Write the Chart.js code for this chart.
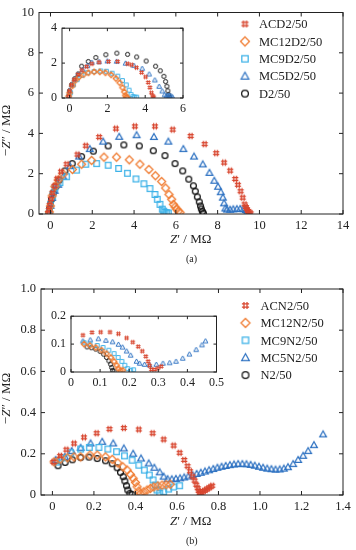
<!DOCTYPE html>
<html>
<head>
<meta charset="utf-8">
<script src="https://cdn.jsdelivr.net/npm/chart.js@4.4.0/dist/chart.umd.min.js"></script>
<style>
body { margin: 0; background: #fff; width: 356px; height: 550px; position: relative; overflow: hidden; font-family: "Liberation Serif", serif; color: #222; }
canvas { position: absolute; }
.t { position: absolute; font-size: 13px; white-space: nowrap; line-height: 1; }
.cap { font-size: 10px; }
</style>
</head>
<body>
<canvas id="mainA" style="left:0;top:0"></canvas>
<canvas id="insetA" style="left:44px;top:16px"></canvas>
<canvas id="mainB" style="left:0;top:275px"></canvas>
<canvas id="insetB" style="left:45px;top:304px"></canvas>

<div class="t" style="left:170px;top:232px"><i>Z</i>′ / MΩ</div>
<div class="t cap" style="left:186px;top:254px">(a)</div>
<div class="t" style="left:170px;top:514px"><i>Z</i>′ / MΩ</div>
<div class="t cap" style="left:186px;top:536px">(b)</div>
<div class="t" style="left:-20px;top:124px;transform:rotate(-90deg)">−<i>Z</i>″ / MΩ</div>
<div class="t" style="left:-20px;top:392px;transform:rotate(-90deg)">−<i>Z</i>″ / MΩ</div>

<script>
// ---------- tick labels ----------
const aMainXTicks = ['0', '2', '4', '6', '8', '10', '12', '14'];
const aMainYTicks = ['0', '2', '4', '6', '8', '10'];
const aInsetXTicks = ['0', '2', '4', '6'];
const aInsetYTicks = ['0', '2', '4'];
const bMainXTicks = ['0', '0.2', '0.4', '0.6', '0.8', '1.0', '1.2', '1.4'];
const bMainYTicks = ['0', '0.2', '0.4', '0.6', '0.8', '1.0'];
const bInsetXTicks = ['0', '0.1', '0.2', '0.3', '0.4', '0.5'];
const bInsetYTicks = ['0', '0.1', '0.2'];

const labelsA = ['ACD2/50', 'MC12D2/50', 'MC9D2/50', 'MC5D2/50', 'D2/50'];
const labelsB = ['ACN2/50', 'MC12N2/50', 'MC9N2/50', 'MC5N2/50', 'N2/50'];

// ---------- panel (a), main ----------
const aAcdX = [-0.1, -0.08, -0.04, 0.02, 0.1, 0.2, 0.32, 0.5, 0.77, 1.29, 1.69, 2.33, 3.13, 4.04, 5.0, 5.85, 6.71, 7.38, 7.93, 8.31, 8.6, 8.84, 8.97, 9.1, 9.2, 9.29, 9.35, 9.4, 9.45, 9.52, 9.58];
const aAcdY = [0.05, 0.2, 0.45, 0.75, 1.05, 1.4, 1.75, 2.1, 2.47, 2.95, 3.39, 3.82, 4.24, 4.35, 4.35, 4.19, 3.87, 3.47, 3.02, 2.55, 2.15, 1.74, 1.45, 1.13, 0.81, 0.48, 0.35, 0.24, 0.15, 0.08, 0.03];
const aMc12X = [-0.05, 0.0, 0.08, 0.21, 0.37, 0.61, 1.05, 1.49, 1.97, 2.56, 3.16, 3.77, 4.28, 4.71, 5.02, 5.32, 5.51, 5.67, 5.8, 5.88, 5.96, 6.04, 6.12, 6.2];
const aMc12Y = [0.1, 0.4, 0.9, 1.37, 1.69, 1.98, 2.21, 2.47, 2.66, 2.82, 2.82, 2.69, 2.47, 2.21, 1.9, 1.61, 1.29, 0.97, 0.73, 0.48, 0.35, 0.24, 0.14, 0.08];
const aMc9X = [-0.05, 0.0, 0.1, 0.21, 0.45, 0.77, 1.25, 1.69, 2.21, 2.76, 3.26, 3.68, 4.09, 4.47, 4.76, 5.0, 5.11, 5.24, 5.35, 5.42, 5.48, 5.56, 5.64];
const aMc9Y = [0.1, 0.45, 0.89, 1.29, 1.56, 1.85, 2.18, 2.47, 2.5, 2.42, 2.26, 2.02, 1.74, 1.5, 1.26, 0.97, 0.73, 0.48, 0.24, 0.14, 0.08, 0.06, 0.05];
const aMc5X = [-0.05, 0.0, 0.08, 0.2, 0.37, 0.61, 0.93, 1.37, 1.88, 2.52, 3.29, 4.12, 4.95, 5.64, 6.36, 6.87, 7.29, 7.61, 7.84, 8.02, 8.15, 8.25, 8.31, 8.37, 8.45, 8.6, 8.75, 8.92, 9.08, 9.24, 9.35, 9.43];
const aMc5Y = [0.1, 0.4, 0.8, 1.15, 1.45, 1.85, 2.37, 2.85, 3.22, 3.59, 3.83, 3.91, 3.82, 3.59, 3.22, 2.85, 2.46, 2.04, 1.65, 1.35, 1.08, 0.81, 0.53, 0.27, 0.22, 0.21, 0.23, 0.24, 0.25, 0.24, 0.2, 0.16];
const aD2X = [-0.08, -0.05, 0.0, 0.05, 0.13, 0.26, 0.42, 0.69, 1.04, 1.49, 2.05, 2.76, 3.51, 4.25, 4.92, 5.48, 5.96, 6.33, 6.62, 6.84, 6.93, 7.03, 7.12, 7.18, 7.22, 7.27, 7.32];
const aD2Y = [0.05, 0.25, 0.5, 0.73, 1.05, 1.37, 1.69, 2.14, 2.5, 2.85, 3.12, 3.38, 3.43, 3.38, 3.14, 2.9, 2.5, 2.14, 1.73, 1.4, 1.13, 0.85, 0.6, 0.4, 0.25, 0.12, 0.04];

// ---------- panel (a), inset ----------
const aiAcdX = [-0.05, 0.0, 0.1, 0.25, 0.45, 0.65, 0.9, 1.18, 1.56, 2.06, 2.54, 3.07, 3.28, 3.54, 3.81, 4.02, 4.16, 4.25, 4.33, 4.4, 4.45];
const aiAcdY = [0.1, 0.4, 0.75, 1.05, 1.35, 1.6, 1.8, 1.96, 2.05, 2.09, 2.09, 1.96, 1.9, 1.74, 1.46, 1.21, 0.89, 0.6, 0.3, 0.12, 0.05];
const aiMc12X = [-0.05, 0.0, 0.15, 0.3, 0.5, 0.75, 1.0, 1.3, 1.6, 1.9, 2.2, 2.45, 2.65, 2.8, 2.9, 2.95, 3.0, 3.05];
const aiMc12Y = [0.1, 0.3, 0.7, 1.0, 1.2, 1.35, 1.45, 1.5, 1.5, 1.45, 1.33, 1.12, 0.88, 0.6, 0.35, 0.15, 0.05, 0.03];
const aiMc9X = [-0.05, 0.05, 0.2, 0.4, 0.65, 0.95, 1.3, 1.65, 1.95, 2.25, 2.55, 2.8, 3.0, 3.15, 3.25, 3.35, 3.45, 3.55];
const aiMc9Y = [0.1, 0.3, 0.75, 1.05, 1.3, 1.45, 1.52, 1.55, 1.53, 1.42, 1.25, 1.0, 0.75, 0.45, 0.2, 0.08, 0.05, 0.05];
const aiMc5X = [-0.05, 0.0, 0.1, 0.25, 0.45, 0.7, 0.95, 1.18, 1.56, 2.0, 2.49, 2.96, 3.4, 3.84, 4.21, 4.51, 4.74, 4.9, 5.03, 5.12, 5.2, 5.28, 5.36, 5.44];
const aiMc5Y = [0.1, 0.4, 0.75, 1.05, 1.35, 1.62, 1.85, 2.04, 2.08, 2.12, 2.1, 1.99, 1.86, 1.69, 1.37, 1.03, 0.66, 0.4, 0.18, 0.12, 0.15, 0.15, 0.12, 0.06];
const aiD2X = [-0.04, 0.0, 0.11, 0.28, 0.46, 0.64, 0.99, 1.39, 1.92, 2.5, 3.07, 3.55, 4.05, 4.55, 4.8, 4.99, 5.08, 5.15, 5.2, 5.24, 5.29];
const aiD2Y = [0.1, 0.41, 0.76, 1.11, 1.38, 1.82, 2.09, 2.32, 2.48, 2.57, 2.5, 2.35, 2.12, 1.82, 1.56, 1.24, 0.94, 0.67, 0.41, 0.18, 0.05];

// ---------- panel (b), main ----------
const bAcnX = [0.005, 0.037, 0.067, 0.104, 0.152, 0.213, 0.275, 0.344, 0.416, 0.483, 0.536, 0.584, 0.613, 0.635, 0.651, 0.663, 0.675, 0.685, 0.693, 0.7, 0.705, 0.71, 0.72, 0.73, 0.74, 0.75, 0.76, 0.77];
const bAcnY = [0.16, 0.19, 0.22, 0.25, 0.28, 0.3, 0.32, 0.325, 0.318, 0.3, 0.27, 0.24, 0.205, 0.17, 0.14, 0.115, 0.09, 0.07, 0.05, 0.033, 0.02, 0.01, 0.012, 0.02, 0.026, 0.032, 0.038, 0.045];
const bMc12X = [0.008, 0.037, 0.072, 0.104, 0.136, 0.181, 0.216, 0.256, 0.288, 0.315, 0.339, 0.36, 0.376, 0.389, 0.4, 0.408, 0.416, 0.424, 0.44, 0.456, 0.472, 0.488, 0.508, 0.528, 0.548, 0.568];
const bMc12Y = [0.161, 0.174, 0.181, 0.185, 0.185, 0.194, 0.194, 0.185, 0.173, 0.156, 0.137, 0.121, 0.1, 0.081, 0.061, 0.04, 0.019, 0.006, 0.015, 0.024, 0.032, 0.039, 0.044, 0.048, 0.05, 0.052];
const bMc9X = [0.02, 0.048, 0.088, 0.136, 0.178, 0.224, 0.267, 0.309, 0.347, 0.384, 0.416, 0.443, 0.467, 0.485, 0.496, 0.504, 0.517, 0.536, 0.56, 0.584, 0.613];
const bMc9Y = [0.16, 0.18, 0.205, 0.223, 0.231, 0.231, 0.223, 0.21, 0.19, 0.169, 0.145, 0.121, 0.097, 0.073, 0.048, 0.024, 0.008, 0.016, 0.029, 0.039, 0.045];
const bMc5X = [0.016, 0.06, 0.093, 0.136, 0.184, 0.24, 0.293, 0.344, 0.389, 0.427, 0.464, 0.491, 0.517, 0.536, 0.555, 0.575, 0.595, 0.615, 0.635, 0.655, 0.675, 0.695, 0.715, 0.735, 0.755, 0.775, 0.795, 0.815, 0.835, 0.855, 0.875, 0.895, 0.915, 0.935, 0.955, 0.975, 0.995, 1.015, 1.035, 1.055, 1.075, 1.095, 1.115, 1.135, 1.16, 1.184, 1.208, 1.232, 1.26, 1.304];
const bMc5Y = [0.17, 0.185, 0.213, 0.229, 0.25, 0.258, 0.25, 0.226, 0.2, 0.177, 0.153, 0.132, 0.11, 0.089, 0.077, 0.076, 0.078, 0.081, 0.085, 0.09, 0.096, 0.102, 0.108, 0.114, 0.12, 0.126, 0.132, 0.137, 0.141, 0.145, 0.148, 0.15, 0.15, 0.149, 0.146, 0.142, 0.137, 0.132, 0.128, 0.125, 0.123, 0.124, 0.128, 0.135, 0.15, 0.17, 0.19, 0.213, 0.242, 0.294];
const bN2X = [0.027, 0.061, 0.096, 0.136, 0.176, 0.216, 0.256, 0.288, 0.312, 0.328, 0.341, 0.349, 0.357, 0.363, 0.373, 0.384];
const bN2Y = [0.142, 0.158, 0.171, 0.182, 0.184, 0.177, 0.166, 0.152, 0.132, 0.11, 0.089, 0.068, 0.045, 0.024, 0.008, 0.003];

// ---------- panel (b), inset ----------
const biAcnX = [0.041, 0.072, 0.102, 0.134, 0.163, 0.191, 0.212, 0.231, 0.245, 0.257, 0.265, 0.27, 0.276, 0.288, 0.299, 0.31];
const biAcnY = [0.132, 0.142, 0.143, 0.143, 0.137, 0.122, 0.107, 0.091, 0.075, 0.056, 0.038, 0.023, 0.009, 0.009, 0.014, 0.02];
const biMc12X = [0.045, 0.065, 0.085, 0.105, 0.122, 0.137, 0.148, 0.157, 0.163, 0.17, 0.178];
const biMc12Y = [0.1, 0.095, 0.088, 0.078, 0.066, 0.052, 0.038, 0.024, 0.012, 0.005, 0.006];
const biMc9X = [0.045, 0.065, 0.09, 0.11, 0.13, 0.148, 0.162, 0.175, 0.185, 0.195, 0.205, 0.215];
const biMc9Y = [0.105, 0.1, 0.095, 0.088, 0.078, 0.066, 0.052, 0.038, 0.024, 0.012, 0.006, 0.008];
const biMc5X = [0.041, 0.066, 0.094, 0.12, 0.143, 0.163, 0.177, 0.191, 0.205, 0.225, 0.236, 0.253, 0.27, 0.293, 0.316, 0.339, 0.361, 0.384, 0.407, 0.43, 0.45, 0.462];
const biMc5Y = [0.111, 0.115, 0.119, 0.113, 0.108, 0.099, 0.089, 0.075, 0.06, 0.038, 0.031, 0.027, 0.025, 0.027, 0.031, 0.033, 0.038, 0.049, 0.064, 0.08, 0.097, 0.111];
const biN2X = [0.055, 0.07, 0.085, 0.1, 0.112, 0.122, 0.13, 0.136, 0.14, 0.143, 0.148];
const biN2Y = [0.09, 0.087, 0.082, 0.074, 0.064, 0.052, 0.04, 0.028, 0.016, 0.006, 0.003];

const colors = ['#d8462f', '#f07c32', '#3db2e8', '#2e72c2', '#111111'];
const shapes = ['hash', 'diamond', 'square', 'triangle', 'circle'];

function marker(shape, color, s) {
    const lw = s > 5 ? 1.25 : 1;
    const d = Math.ceil(s + lw * 2 + 2);
    const c = document.createElement('canvas');
    c.width = d; c.height = d;
    const g = c.getContext('2d');
    const m = d / 2, r = s / 2;
    g.strokeStyle = color;
    g.lineWidth = lw;
    g.beginPath();
    if (shape === 'circle') {
        g.arc(m, m, r * 0.9, 0, Math.PI * 2);
    } else if (shape === 'square') {
        g.rect(m - r * 0.85, m - r * 0.85, r * 1.7, r * 1.7);
    } else if (shape === 'diamond') {
        g.moveTo(m, m - r); g.lineTo(m + r, m); g.lineTo(m, m + r); g.lineTo(m - r, m); g.closePath();
    } else if (shape === 'triangle') {
        g.moveTo(m, m - r); g.lineTo(m + r * 0.95, m + r * 0.7); g.lineTo(m - r * 0.95, m + r * 0.7); g.closePath();
    } else {
        // hatched marker
        [-0.38, 0.38].forEach(k => {
            g.moveTo(m + k * r, m - r * 0.9); g.lineTo(m + k * r, m + r * 0.9);
            g.moveTo(m - r * 0.9, m + k * r); g.lineTo(m + r * 0.9, m + k * r);
        });
    }
    g.stroke();
    return c;
}

const mainSizes = [7, 8, 6.5, 7, 6.5];
const insetSizes = [5, 5.5, 4.5, 5, 4.6];

function datasets(labels, xs, ys, sizes) {
    return labels.map((label, i) => ({
        label: label,
        data: xs[i].map((x, j) => ({ x: x, y: ys[i][j] })),
        pointStyle: marker(shapes[i], colors[i], sizes[i]),
        legendImg: marker(shapes[i], colors[i], sizes[i] + 1),
        pointRadius: 3,
        showLine: false
    }));
}

const framePlugin = {
    id: 'frame',
    beforeDraw(chart, args, opts) {
        if (opts.fill) {
            const a = chart.chartArea;
            chart.ctx.save();
            chart.ctx.fillStyle = '#fff';
            chart.ctx.fillRect(a.left, a.top, a.right - a.left, a.bottom - a.top);
            chart.ctx.restore();
        }
    },
    afterDraw(chart, args, opts) {
        const ctx = chart.ctx;
        const a = chart.chartArea;
        const L = opts.tick || 4;
        const xs = chart.scales.x, ys = chart.scales.y;
        ctx.save();
        ctx.strokeStyle = '#222';
        ctx.lineWidth = 1;
        ctx.beginPath();
        xs.ticks.forEach(t => {
            const p = xs.getPixelForValue(t.value);
            ctx.moveTo(p, a.bottom); ctx.lineTo(p, a.bottom - L);
            ctx.moveTo(p, a.top); ctx.lineTo(p, a.top + L);
        });
        ys.ticks.forEach(t => {
            const p = ys.getPixelForValue(t.value);
            ctx.moveTo(a.left, p); ctx.lineTo(a.left + L, p);
            ctx.moveTo(a.right, p); ctx.lineTo(a.right - L, p);
        });
        ctx.stroke();
        ctx.strokeRect(a.left, a.top, a.right - a.left, a.bottom - a.top);

        const lg = opts.legend;
        if (lg) {
            ctx.font = '12.5px "Liberation Serif"';
            ctx.fillStyle = '#222';
            ctx.textBaseline = 'middle';
            chart.data.datasets.forEach((ds, i) => {
                const yy = lg.y + i * lg.dy;
                const img = ds.legendImg;
                ctx.drawImage(img, lg.x - img.width / 2, yy - img.height / 2);
                ctx.fillText(ds.label, lg.tx, yy + 1);
            });
        }
        ctx.restore();
    }
};

function makeChart(id, w, h, c) {
    const el = document.getElementById(id);
    el.width = w; el.height = h;
    const font = { family: 'Liberation Serif', size: c.fontSize };
    return new Chart(el, {
        type: 'scatter',
        data: { datasets: c.datasets },
        options: {
            responsive: false,
            animation: false,
            events: [],
            layout: { padding: { top: c.padTop, right: c.padRight, left: 0, bottom: 0 } },
            plugins: {
                legend: { display: false },
                tooltip: { enabled: false },
                frame: { tick: c.tick, fill: c.fill, legend: c.legend }
            },
            scales: {
                x: {
                    type: 'linear', min: c.xMin, max: c.xMax,
                    grid: { display: false, drawTicks: false },
                    border: { display: false },
                    afterBuildTicks: s => { s.ticks = c.xTicks.map(t => ({ value: parseFloat(t) })); },
                    afterFit: s => { s.height = c.xH; },
                    ticks: { font: font, color: '#222', padding: 4, maxRotation: 0, autoSkip: false, callback: (v, i) => c.xTicks[i] }
                },
                y: {
                    type: 'linear', min: c.yMin, max: c.yMax,
                    grid: { display: false, drawTicks: false },
                    border: { display: false },
                    afterBuildTicks: s => { s.ticks = c.yTicks.map(t => ({ value: parseFloat(t) })); },
                    afterFit: s => { s.width = c.yW; },
                    ticks: { font: font, color: '#222', padding: 5, autoSkip: false, callback: (v, i) => c.yTicks[i] }
                }
            }
        },
        plugins: [framePlugin]
    });
}

makeChart('mainA', 356, 250, {
    datasets: datasets(labelsA, [aAcdX, aMc12X, aMc9X, aMc5X, aD2X], [aAcdY, aMc12Y, aMc9Y, aMc5Y, aD2Y], mainSizes),
    xMin: -0.55, xMax: 14, yMin: 0, yMax: 10,
    xTicks: aMainXTicks, yTicks: aMainYTicks,
    padTop: 7, padRight: 13, yW: 39, xH: 36, tick: 4, fontSize: 12.5,
    legend: { x: 245, tx: 259, y: 24, dy: 17.4 }
});

makeChart('insetA', 146, 96, {
    datasets: datasets(labelsA, [aiAcdX, aiMc12X, aiMc9X, aiMc5X, aiD2X], [aiAcdY, aiMc12Y, aiMc9Y, aiMc5Y, aiD2Y], insetSizes),
    xMin: -0.4, xMax: 6, yMin: 0, yMax: 4,
    xTicks: aInsetXTicks, yTicks: aInsetYTicks,
    padTop: 8, padRight: 6, yW: 18, xH: 14, tick: 3, fontSize: 12, fill: true
});

makeChart('mainB', 356, 250, {
    datasets: datasets(labelsB, [bAcnX, bMc12X, bMc9X, bMc5X, bN2X], [bAcnY, bMc12Y, bMc9Y, bMc5Y, bN2Y], mainSizes),
    xMin: -0.055, xMax: 1.4, yMin: 0, yMax: 1.0,
    xTicks: bMainXTicks, yTicks: bMainYTicks,
    padTop: 14, padRight: 13, yW: 41, xH: 30, tick: 4, fontSize: 12.5,
    legend: { x: 245.5, tx: 260.5, y: 30.5, dy: 17.4 }
});

makeChart('insetB', 183, 82, {
    datasets: datasets(labelsB, [biAcnX, biMc12X, biMc9X, biMc5X, biN2X], [biAcnY, biMc12Y, biMc9Y, biMc5Y, biN2Y], insetSizes),
    xMin: 0, xMax: 0.5, yMin: 0, yMax: 0.2,
    xTicks: bInsetXTicks, yTicks: bInsetYTicks,
    padTop: 9, padRight: 6, yW: 26, xH: 14, tick: 3, fontSize: 12, fill: true
});
</script>
</body>
</html>
